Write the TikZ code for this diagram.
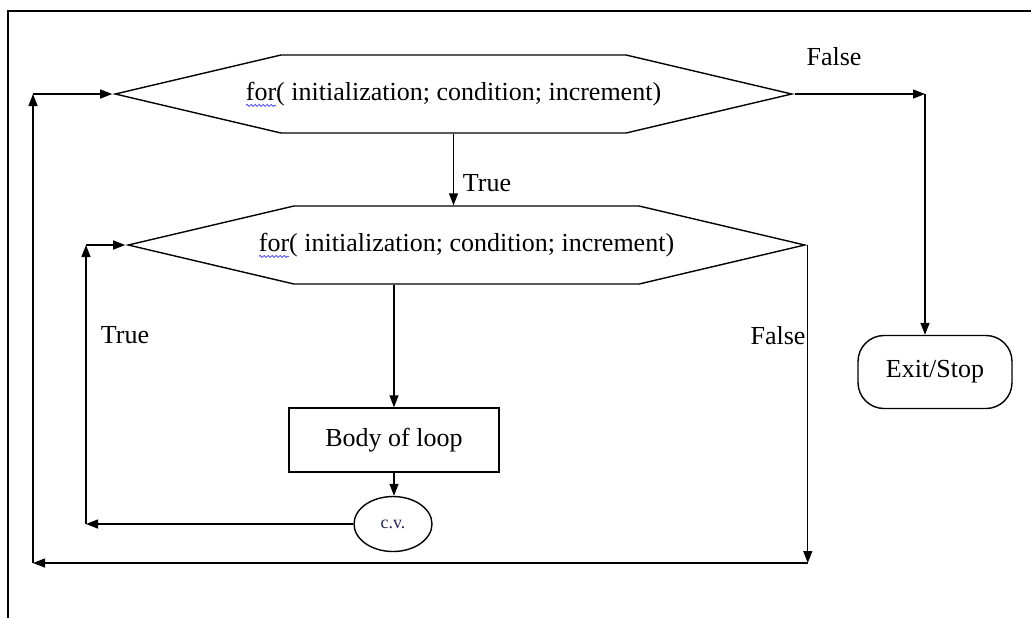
\documentclass[tikz,border=0pt]{standalone}
\usepackage{fontspec}
\setmainfont{Liberation Serif}
\usetikzlibrary{arrows.meta,shapes.symbols,shapes.geometric,decorations.pathmorphing}

\definecolor{cvblue}{rgb}{0.15,0.15,0.35}

\tikzset{
  loophex/.style={draw, signal, signal to=west and east, signal pointer angle=26.5,
    minimum height=39pt, inner ysep=0pt, inner xsep=-17.5pt},
  bodybox/.style={draw, rectangle, minimum width=105pt, minimum height=32pt},
  cvnode/.style={draw, ellipse, minimum width=39pt, minimum height=27.5pt, inner sep=0pt,
    font=\fontsize{9}{10}\selectfont, text=cvblue},
  stopnode/.style={draw, rectangle, rounded corners=13pt, minimum width=77pt, minimum height=36.5pt},
  squiggle/.style={blue!70, line width=0.4pt, decorate,
    decoration={snake, amplitude=0.5pt, segment length=2pt}}
}

\begin{document}
\begin{tikzpicture}[x=0.5pt, y=-0.5pt, line width=0.7pt,
  font=\fontsize{13}{15}\selectfont, >={Triangle[length=6pt,width=4.5pt]}]
  \useasboundingbox (0,0) rectangle (1031,618);

  % frame
  \draw[line width=0.6pt] (1031,11) -- (8,11) -- (8,618);

  % the two loops
  \node[loophex] (outer) at (453.5,94) {for( initialization; condition; increment)};
  \node[loophex] (inner) at (466.5,245) {for( initialization; condition; increment)};
  \draw[squiggle] ([yshift=-2.5pt]outer.text) -- ++(15pt,0);
  \draw[squiggle] ([yshift=-2.5pt]inner.text) -- ++(15pt,0);

  % body, counter, exit
  \node[bodybox] (body) at (394,440) {Body of loop};
  \node[cvnode] (cv) at (393,524) {c.v.};
  \node[stopnode] (stop) at (935,372) {Exit/Stop};

  % labels
  \node (trueTop) at (487,183) {True};
  \node (falseTop) at (834,57) {False};
  \node (trueLeft) at (125,335) {True};
  \node (falseRight) at (778,336) {False};

  % turning points
  \coordinate (inTop) at (86,245);
  \coordinate (bottomRun) at (33,563);
  \coordinate (exitTurn) at (925,94);

  % downward flow
  \draw[->] (outer.south) -- (outer.south |- inner.north);
  \draw[->] (inner.south -| body.north) -- (body.north);
  \draw[->] (body.south) -- (body.south |- cv.north);

  % inner loop back
  \draw[->] (cv.west) -- (cv.west -| inTop) coordinate (inBot);
  \draw[->] (inBot) -- (inTop);
  \draw[->] (inTop) -- (inner.west);

  % inner false, back to outer
  \draw[->] (inner.east) -- (inner.east |- bottomRun) coordinate (falseEnd);
  \draw[->] (falseEnd) -- (bottomRun);
  \draw[->] (bottomRun) -- (bottomRun |- outer.west) coordinate (outTop);
  \draw[->] (outTop) -- (outer.west);

  % outer false, exit
  \draw[->] (outer.east) -- (exitTurn);
  \draw[->] (exitTurn) -- (exitTurn |- stop.north);

\end{tikzpicture}
\end{document}
